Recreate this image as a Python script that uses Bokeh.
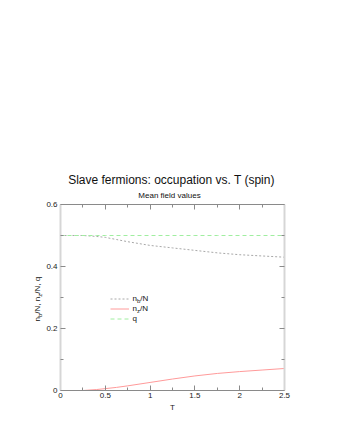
import math
from bokeh.plotting import figure
from bokeh.layouts import column, row
from bokeh.models import Range1d, LinearAxis, FixedTicker, Label, Legend, LegendItem
from bokeh.embed import file_html
from bokeh.resources import INLINE

# ---- data ----
T = [0, 0.25, 0.3, 0.4, 0.5, 0.625, 0.75, 1.0, 1.25, 1.5, 1.75, 2.0, 2.25, 2.5]
nb_over_N = [0.5, 0.5, 0.499, 0.497, 0.494, 0.487, 0.480, 0.468, 0.460, 0.452, 0.444, 0.438, 0.434, 0.430]
nz_over_N = [0.0, 0.0, 0.001, 0.003, 0.006, 0.010, 0.015, 0.026, 0.037, 0.047, 0.055, 0.061, 0.066, 0.071]
q_vals = [0.5] * len(T)

x_ticks = [0, 0.5, 1, 1.5, 2, 2.5]
x_minor = [0.25, 0.75, 1.25, 1.75, 2.25]
y_ticks = [0, 0.2, 0.4, 0.6]
y_minor = [0.1, 0.3, 0.5]

title_text = "Slave fermions: occupation vs. T (spin)"
subtitle_text = "Mean field values"
x_label = "T"
# y-axis label "n_b/N, n_z/N, q" as (text, is_subscript) pieces
y_label_parts = [("n", False), ("b", True), ("/N, n", False), ("z", True), ("/N, q", False)]

# ---- layout (page pixels) ----
XMIN, XMAX, YMIN, YMAX = 0.0, 2.5, 0.0, 0.6
W, H = 324, 424
TOP_H = 201          # height of the title strip
LEFT_W = 43          # width of the y-label strip
FL, FT, FW, FH = 58, 204, 224, 186   # frame position on the page
FONT = "Liberation Sans"

# advance widths of Liberation Sans (= Arial metrics), per 1000 em
ADV = {"n": 556, "b": 556, "z": 500, "q": 556, "/": 278, "N": 722, ",": 278, " ": 278}

def text_w(s, size):
    return sum(ADV[c] for c in s) * size / 1000.0

def text_fig(w, h):
    f = figure(width=w, height=h, min_border=0, x_axis_location=None, y_axis_location=None,
               x_range=Range1d(0, w), y_range=Range1d(h, 0),
               title=None, toolbar_location=None, output_backend="svg")
    f.outline_line_color = None
    f.grid.visible = False
    f.background_fill_color = "white"
    f.border_fill_color = "white"
    return f

def lab(f, text, x, y, size=8, align="left", angle=0.0):
    # x, y: canvas pixels of figure f
    f.add_layout(Label(x=x, y=y, x_units="canvas", y_units="canvas",
                       text=text, text_font=FONT,
                       text_font_size=f"{size}px", text_align=align,
                       text_baseline="middle", angle=angle,
                       text_color="#111111"))

MID = 0.35  # distance from baseline to the middle of the text box, in em

# ---- title strip (page origin 0, 0) ----
top = text_fig(W, TOP_H)
lab(top, title_text, 171, 184 - MID * 12, size=12, align="center")
lab(top, subtitle_text, 169, 198 - MID * 8, size=8, align="center")

# ---- y-label strip (page origin 0, TOP_H), rotated, with subscripts ----
side = text_fig(LEFT_W, H - TOP_H)
A = math.pi / 2
BX, SBX = 39.5, 41.5   # baselines of main text and subscripts (page x)
ypos = 321.0           # page y where the label starts (bottom)
for txt, sub in y_label_parts:
    size = 6 if sub else 8
    w = text_w(txt, size)
    cx = (SBX if sub else BX) - MID * size
    lab(side, txt, cx, ypos - w / 2 - TOP_H, size=size, align="center", angle=A)
    ypos -= w

# ---- main plot (page origin LEFT_W, TOP_H) ----
MW, MH = W - LEFT_W, H - TOP_H
p = figure(width=MW, height=MH, frame_width=FW, frame_height=FH,
           min_border_left=FL - LEFT_W, min_border_right=MW - (FL - LEFT_W) - FW,
           min_border_top=FT - TOP_H, min_border_bottom=MH - (FT - TOP_H) - FH,
           x_range=Range1d(XMIN, XMAX), y_range=Range1d(YMIN, YMAX),
           title=None, toolbar_location=None, output_backend="svg")
p.outline_line_color = None
p.grid.visible = False
p.background_fill_color = "white"
p.border_fill_color = "white"

xt = FixedTicker(ticks=x_ticks, minor_ticks=x_minor)
yt = FixedTicker(ticks=y_ticks, minor_ticks=y_minor)

p.add_layout(LinearAxis(), "above")
p.add_layout(LinearAxis(), "right")

for ax in p.xaxis:
    ax.ticker = xt
    ax.axis_line_color = "#8a8a8a"
    ax.axis_line_width = 1
for ax in p.yaxis:
    ax.ticker = yt
    ax.axis_line_color = "#d6d6d6"
    ax.axis_line_width = 2

for ax in list(p.xaxis) + list(p.yaxis):
    ax.major_tick_in = 5
    ax.major_tick_out = 0
    ax.minor_tick_in = 3
    ax.minor_tick_out = 0
    ax.major_tick_line_color = "#8a8a8a"
    ax.minor_tick_line_color = "#8a8a8a"
    ax.major_label_text_font = FONT
    ax.major_label_text_font_size = "8px"
    ax.major_label_text_color = "#222222"

bottom = p.below[0]
left = p.left[0]
bottom.major_label_overrides = {0: "0", 1: "1", 2: "2"}
bottom.major_label_standoff = 2
bottom.axis_label = x_label
bottom.axis_label_text_font = FONT
bottom.axis_label_text_font_size = "8px"
bottom.axis_label_text_font_style = "normal"
bottom.axis_label_text_color = "#222222"
bottom.axis_label_standoff = 2
left.major_label_overrides = {0: "0"}
left.major_label_standoff = 3

for ax in (p.above[0], p.right[0]):
    ax.major_label_text_color = None
    ax.major_label_text_font_size = "0px"
    ax.major_label_standoff = 0

# ---- curves ----
r_nb = p.line(T, nb_over_N, line_color="#a8a8a8", line_dash="2 2", line_width=1)
r_nz = p.line(T, nz_over_N, line_color="#ff9a9a", line_width=1)
r_q = p.line(T, q_vals, line_color="#a0eea0", line_dash="4 3", line_width=1)

legend = Legend(items=[LegendItem(label=" ", renderers=[r_nb]),
                       LegendItem(label=" ", renderers=[r_nz]),
                       LegendItem(label=" ", renderers=[r_q])],
                location=(50, 67), glyph_width=19, glyph_height=9, label_height=9,
                label_width=0, label_standoff=0, spacing=1, padding=0, margin=0,
                border_line_color=None, background_fill_alpha=0,
                label_text_font_size="1px")
p.add_layout(legend)

# legend texts with subscripts (canvas pixels of the main plot)
ox, oy = LEFT_W, TOP_H
m8, m6 = MID * 8, MID * 6
lab(p, "n", 132 - ox, 300.7 - m8 - oy)
lab(p, "b", 136.45 - ox, 302.7 - m6 - oy, size=6)
lab(p, "/N", 139.8 - ox, 300.7 - m8 - oy)
lab(p, "n", 132 - ox, 310.7 - m8 - oy)
lab(p, "z", 136.45 - ox, 312.7 - m6 - oy, size=6)
lab(p, "/N", 139.45 - ox, 310.7 - m8 - oy)
lab(p, "q", 132 - ox, 320.3 - m8 - oy)

layout = column(top, row(side, p, spacing=0), spacing=0)
open("out.html", "w").write(file_html(layout, INLINE))
